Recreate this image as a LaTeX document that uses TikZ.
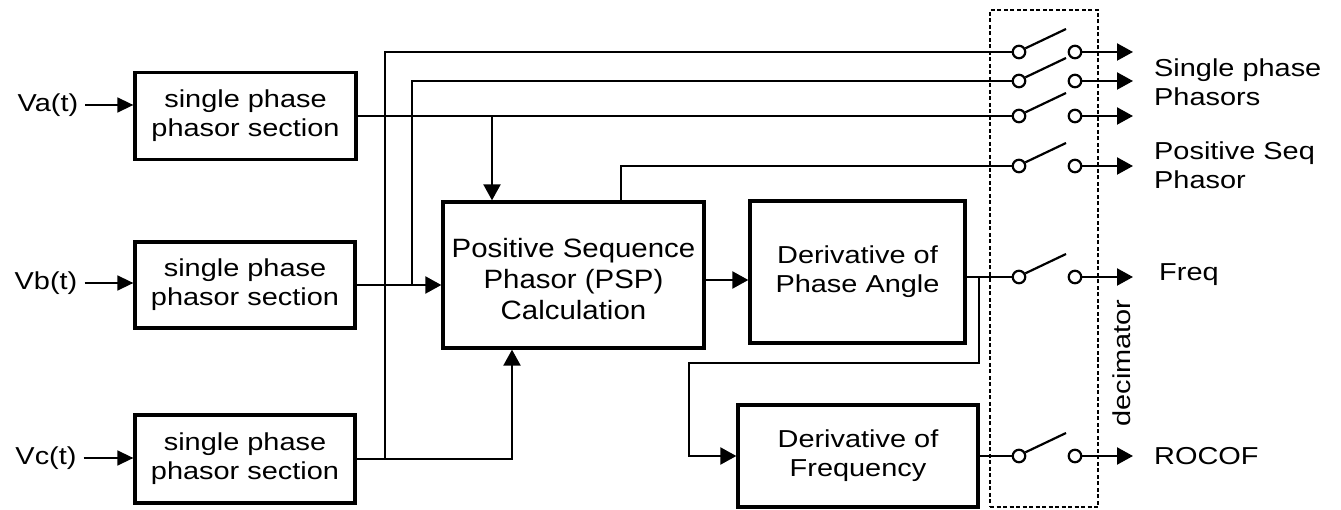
\documentclass[tikz,border=0pt]{standalone}
\usepackage{fontspec}
\setmainfont[FakeStretch=1.18]{Liberation Sans}
\newfontfamily\pspfont[FakeStretch=1.11]{Liberation Sans}
\usetikzlibrary{arrows.meta}
\begin{document}
\begin{tikzpicture}[x=1pt,y=-1pt,
  every node/.style={font=\fontsize{24.5}{29}\selectfont},
  blk/.style={draw, line width=3.3pt, inner sep=0pt, align=center},
  wire/.style={line width=2.2pt},
  arr/.style={wire, -{Triangle[length=16pt,width=17pt]}},
  inarr/.style={line width=1.6pt, shorten <=7pt, -{Triangle[length=16pt,width=15pt]}},
  sw/.style={circle, draw, line width=2.2pt, fill=white, inner sep=0pt, minimum size=12.5pt},
  lbl/.style={inner sep=0pt, align=left},
  decbox/.style={draw, line width=2pt, dash pattern=on 4pt off 2.5pt, inner sep=0pt},
]
\useasboundingbox (0,0) rectangle (1341,510);

% blocks
\node[blk, minimum width=221pt, minimum height=87pt] (A) at (245.5,116) {single phase\\phasor section};
\node[blk, minimum width=220pt, minimum height=86pt] (B) at (245,285) {single phase\\phasor section};
\node[blk, minimum width=220pt, minimum height=88pt] (C) at (245,459) {single phase\\phasor section};
\node[blk, minimum width=261pt, minimum height=146pt, font=\pspfont\fontsize{26.5}{31}\selectfont] (P) at (573.5,275) {\rule{0pt}{28pt}Positive Sequence\\Phasor (PSP)\\Calculation};
\node[blk, minimum width=215pt, minimum height=142pt] (D) at (857.5,272) {Derivative of\\Phase Angle};
\node[blk, minimum width=240pt, minimum height=102pt] (E) at (858,456) {Derivative of\\Frequency};

% inputs
\node[inner sep=0pt] (va) at (48,105) {Va(t)};
\node[inner sep=0pt] (vb) at (46,283) {Vb(t)};
\node[inner sep=0pt] (vc) at (46,458) {Vc(t)};
\draw[inarr] (va.east) -- (va.east -| A.west);
\draw[inarr] (vb.east) -- (vb.east -| B.west);
\draw[inarr] (vc.east) -- (vc.east -| C.west);

% decimator
\node[decbox, minimum width=108pt, minimum height=497pt] (dec) at (1044,258.5) {};
\node[rotate=90, inner sep=0pt] (dect) at (1122,363) {decimator};

% switches
\foreach \i/\y in {1/52,2/81,3/116,4/166,5/277,6/456} {
  \node[sw] (L\i) at (1019,\y) {};
  \node[sw] (R\i) at (1075,\y) {};
  \coordinate (B\i) at (1066,\y-23);
  \coordinate (T\i) at (1133,\y);
  \draw[wire] (L\i.30) -- (B\i);
  \draw[arr] (R\i.east) -- (T\i);
}

% wiring
\coordinate (j1) at (385,52);
\coordinate (j2) at (412,81);
\draw[wire] (C.east -| j1) -- (j1) -- (L1.west);
\draw[wire] (B.east -| j2) -- (j2) -- (L2.west);
\draw[wire] (A.east) -- (L3.west);
\coordinate (p1) at (492,116);
\draw[arr] (p1) -- (p1 |- P.north);
\draw[arr] (B.east) -- (B.east -| P.west);
\coordinate (p3) at (512,459);
\draw[arr] (C.east) -- (p3) -- (p3 |- P.south);
\coordinate (p4) at (621,166);
\draw[wire] (p4 |- P.north) -- (p4) -- (L4.west);
\coordinate (pd) at (704,280);
\draw[arr] (pd) -- (pd -| D.west);
\draw[wire] (D.east |- L5) -- (L5.west);
\coordinate (k1) at (979,277);
\coordinate (k2) at (979,363);
\coordinate (k3) at (689,363);
\draw[arr] (k1) -- (k2) -- (k3) -- (k3 |- E.west) -- (E.west);
\draw[wire] (E.east) -- (L6.west);

% output labels
\node[lbl, anchor=west] (lsp) at (1154,82) {Single phase\\Phasors};
\node[lbl, anchor=west] (lps) at (1154,165) {Positive Seq\\Phasor};
\node[lbl, anchor=west] (lf) at (1159,275) {Freq};
\node[lbl, anchor=west] (lr) at (1154,456) {ROCOF};
\end{tikzpicture}
\end{document}
